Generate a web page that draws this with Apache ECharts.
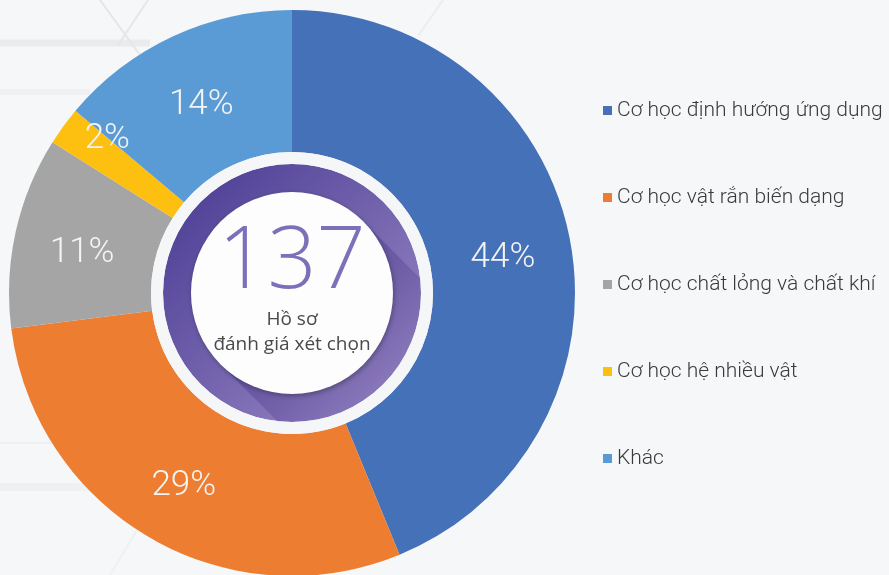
<!DOCTYPE html>
<html>
<head>
<meta charset="utf-8">
<script src="https://cdn.jsdelivr.net/npm/echarts@6/dist/echarts.min.js"></script>
<style>
  html, body { margin: 0; padding: 0; background: #f6f7f8; }
  #chart { width: 889px; height: 575px; }
</style>
</head>
<body>
<div id="chart"></div>
<script>
// dữ liệu hồ sơ theo lĩnh vực
const categories = [
  'Cơ học định hướng ứng dụng',
  'Cơ học vật rắn biến dạng',
  'Cơ học chất lỏng và chất khí',
  'Cơ học hệ nhiều vật',
  'Khác'
];
const values = [60, 40, 15, 3, 19];
const colors = ['#4571b8', '#ed7d31', '#a5a5a5', '#fdbf10', '#5b9bd5'];
const centerTitle = ['Hồ sơ', 'đánh giá xét chọn'];

const total = values.reduce((a, b) => a + b, 0);

const cx = 292, cy = 293;

// bóng dài trên vòng tím (hướng xuống phải)
function longShadow() {
  const r0 = 101, rEnd = 136;
  const dir = Math.PI / 4;
  const pts = [];
  const t = Math.sqrt(rEnd * rEnd - r0 * r0);
  const px = -Math.sin(dir), py = Math.cos(dir);
  const dx = Math.cos(dir), dy = Math.sin(dir);
  pts.push([cx + r0 * px, cy + r0 * py]);
  const a1 = Math.atan2(r0 * py + t * dy, r0 * px + t * dx);
  const a2 = Math.atan2(-r0 * py + t * dy, -r0 * px + t * dx);
  let start = a1, end = a2;
  if (end > start) end -= Math.PI * 2;
  for (let i = 0; i <= 30; i++) {
    const a = start + (end - start) * i / 30;
    pts.push([cx + rEnd * Math.cos(a), cy + rEnd * Math.sin(a)]);
  }
  pts.push([cx - r0 * px, cy - r0 * py]);
  return pts;
}

const chart = echarts.init(document.getElementById('chart'));

const option = {
  backgroundColor: '#f6f7f8',
  animation: false,
  legend: {
    orient: 'vertical',
    left: 598,
    top: 95,
    itemGap: 66,
    itemWidth: 9,
    itemHeight: 9,
    icon: 'rect',
    selectedMode: false,
    data: categories,
    textStyle: {
      fontFamily: 'Roboto',
      fontWeight: 300,
      fontSize: 21,
      color: '#3a3a3a'
    }
  },
  graphic: [
    // đường nền trang trí
    { type: 'line', silent: true, z: -1, shape: { x1: 0, y1: 43, x2: 150, y2: 43 }, style: { stroke: '#eaebec', lineWidth: 7 } },
    { type: 'line', silent: true, z: -1, shape: { x1: 0, y1: 92, x2: 90, y2: 92 }, style: { stroke: '#eff0f1', lineWidth: 6 } },
    { type: 'line', silent: true, z: -1, shape: { x1: 100, y1: 0, x2: 140, y2: 55 }, style: { stroke: '#e5e6e7', lineWidth: 2 } },
    { type: 'line', silent: true, z: -1, shape: { x1: 148, y1: 0, x2: 118, y2: 45 }, style: { stroke: '#e5e6e7', lineWidth: 2 } },
    { type: 'line', silent: true, z: -1, shape: { x1: 443, y1: 0, x2: 418, y2: 36 }, style: { stroke: '#eceded', lineWidth: 2 } },
    { type: 'line', silent: true, z: -1, shape: { x1: 0, y1: 443, x2: 60, y2: 443 }, style: { stroke: '#eeeff0', lineWidth: 2 } },
    { type: 'line', silent: true, z: -1, shape: { x1: 0, y1: 487, x2: 95, y2: 487 }, style: { stroke: '#eff0f1', lineWidth: 8 } },
    { type: 'line', silent: true, z: -1, shape: { x1: 137, y1: 530, x2: 110, y2: 575 }, style: { stroke: '#eff0f1', lineWidth: 2 } },
    // vòng tròn giữa
    {
      type: 'circle', silent: true, z: 10,
      shape: { cx: cx, cy: cy, r: 129 },
      style: {
        fill: new echarts.graphic.LinearGradient(0, 0, 1, 1, [
          { offset: 0, color: '#463891' },
          { offset: 1, color: '#a08ec9' }
        ])
      }
    },
    {
      type: 'polygon', silent: true, z: 11,
      shape: { points: longShadow() },
      style: {
        fill: new echarts.graphic.LinearGradient(0, 0, 1, 1, [
          { offset: 0, color: 'rgba(55,38,125,0.55)' },
          { offset: 1, color: 'rgba(55,38,125,0)' }
        ])
      }
    },
    {
      type: 'ring', silent: true, z: 12,
      shape: { cx: cx, cy: cy, r: 141, r0: 129 },
      style: { fill: '#f4f6f7' }
    },
    {
      type: 'circle', silent: true, z: 13,
      shape: { cx: cx, cy: cy, r: 101 },
      style: {
        fill: '#fdfdfd',
        shadowBlur: 5,
        shadowOffsetX: 1,
        shadowOffsetY: 2,
        shadowColor: 'rgba(0,0,0,0.3)'
      }
    },
    {
      type: 'text', silent: true, z: 14,
      style: {
        text: String(total),
        x: cx, y: 263,
        textAlign: 'center', textVerticalAlign: 'middle',
        fontFamily: 'Open Sans', fontWeight: 300, fontSize: 86,
        fill: '#7c70b8'
      }
    },
    {
      type: 'text', silent: true, z: 14,
      style: {
        text: centerTitle.join('\n'),
        x: cx, y: 332,
        textAlign: 'center', textVerticalAlign: 'middle',
        fontFamily: 'Open Sans', fontSize: 19, lineHeight: 25,
        fill: '#4a4a4a'
      }
    }
  ],
  series: [
    {
      type: 'pie',
      center: [cx, cy],
      radius: [141, 283],
      startAngle: 90,
      clockwise: true,
      silent: true,
      percentPrecision: 0,
      label: {
        show: true,
        position: 'inside',
        formatter: '{d}%',
        color: '#f4f4f4',
        fontFamily: 'Roboto',
        fontWeight: 300,
        fontSize: 35,
        offset: [0, 7]
      },
      labelLine: { show: false },
      data: categories.map((name, i) => {
        const item = { name: name, value: values[i], itemStyle: { color: colors[i] } };
        if (i === 3) item.label = { offset: [-11, -27] };
        return item;
      })
    }
  ]
};

chart.setOption(option);
</script>
</body>
</html>
